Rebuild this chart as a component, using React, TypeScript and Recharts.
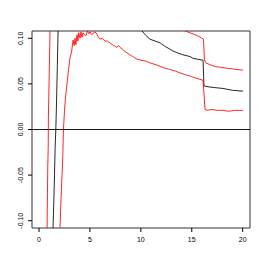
import React from "react";
import { LineChart, Line, XAxis, YAxis, ReferenceLine, ReferenceArea } from "recharts";

const xTicks = [0, 5, 10, 15, 20];
const yTicks = [-0.1, -0.05, 0, 0.05, 0.1];
const yTickLabels = ["-0.10", "-0.05", "0.00", "0.05", "0.10"];

const lowerRedX = [1.8, 2.06, 2.15, 2.26, 2.33, 2.4, 2.5, 2.6, 2.75, 2.9, 3.05, 3.2, 3.34, 3.45, 3.54, 3.62, 3.73, 3.82, 3.9, 4.03, 4.12, 4.22, 4.32, 4.45, 4.62, 4.75, 4.9, 5.0, 5.15, 5.3, 5.45, 5.6, 5.8, 5.99, 6.2, 6.48, 6.7, 6.97, 7.2, 7.37, 7.5, 7.66, 7.8, 7.96, 8.2, 8.4, 8.64, 8.9, 9.2, 9.63, 10.0, 10.5, 10.9, 11.5, 12.18, 12.8, 13.4, 13.85, 14.4, 15.0, 15.5, 16.1, 16.2, 16.3, 16.5, 17.0, 17.5, 18.07, 18.6, 19.2, 20.04];
const lowerRedY = [-0.2, -0.108, -0.08, -0.05, -0.03, 0.0, 0.02, 0.035, 0.05, 0.066, 0.079, 0.085, 0.098, 0.092, 0.1, 0.093, 0.104, 0.097, 0.106, 0.1, 0.107, 0.101, 0.106, 0.104, 0.103, 0.108, 0.105, 0.107, 0.104, 0.105, 0.107, 0.106, 0.102, 0.099, 0.1, 0.097, 0.097, 0.095, 0.093, 0.092, 0.091, 0.09, 0.092, 0.09, 0.088, 0.086, 0.084, 0.082, 0.08, 0.077, 0.076, 0.075, 0.073, 0.071, 0.068, 0.066, 0.064, 0.062, 0.06, 0.058, 0.056, 0.054, 0.04, 0.022, 0.021, 0.022, 0.021, 0.021, 0.02, 0.021, 0.021];

const blackX = [1.3, 1.38, 1.45, 1.52, 1.58, 1.65, 1.72, 1.8, 1.87, 1.95, 3, 5, 7, 8.5, 9.5, 10.12, 10.5, 10.9, 11.4, 11.89, 12.4, 12.87, 13.16, 13.6, 14.1, 14.83, 15.13, 15.6, 16.11, 16.2, 16.5, 17.2, 18.07, 19, 20.04];
const blackY = [-0.2, -0.108, -0.08, -0.05, -0.02, 0.0, 0.03, 0.07, 0.108, 0.2, 0.3, 0.25, 0.18, 0.14, 0.12, 0.108, 0.103, 0.099, 0.097, 0.095, 0.091, 0.088, 0.086, 0.084, 0.082, 0.08, 0.078, 0.077, 0.076, 0.048, 0.047, 0.046, 0.045, 0.043, 0.042];

const upperRedX = [0.7, 0.79, 0.83, 0.86, 0.9, 0.92, 0.95, 1.0, 1.08, 1.15, 2, 5, 9, 12, 13.5, 14.34, 14.83, 15.32, 15.7, 16.01, 16.15, 16.25, 16.4, 16.8, 17.3, 18, 18.6, 19.3, 20.04];
const upperRedY = [-0.2, -0.108, -0.07, -0.04, -0.02, 0.015, 0.03, 0.06, 0.108, 0.2, 0.3, 0.28, 0.2, 0.14, 0.118, 0.108, 0.106, 0.104, 0.102, 0.1, 0.099, 0.076, 0.073, 0.071, 0.069, 0.068, 0.067, 0.066, 0.065];

const zip = (xs: number[], ys: number[]) => xs.map((x, i) => ({ x, y: ys[i] }));
const lowerRed = zip(lowerRedX, lowerRedY);
const black = zip(blackX, blackY);
const upperRed = zip(upperRedX, upperRedY);

const X_DOMAIN: [number, number] = [-0.69, 20.72];
const Y_DOMAIN: [number, number] = [-0.108, 0.108];
const FONT = "'Liberation Sans', Arial, sans-serif";

const XTick = (props: any) => {
  const { x, y, payload } = props;
  return (
    <text x={x} y={y} dy={8} textAnchor="middle" fontSize={7} fontFamily={FONT} fill="#000">
      {payload.value}
    </text>
  );
};

const YTick = (props: any) => {
  const { x, y, payload } = props;
  const idx = yTicks.findIndex((t) => Math.abs(t - payload.value) < 1e-9);
  const label = idx >= 0 ? yTickLabels[idx] : String(payload.value);
  const bx = x - 2;
  return (
    <text x={bx} y={y} transform={`rotate(-90, ${bx}, ${y})`} textAnchor="middle" fontSize={7} fontFamily={FONT} fill="#000">
      {label}
    </text>
  );
};

export default function App() {
  return (
    <div style={{ position: "absolute", left: 0, top: 0, background: "#fff" }}>
      <LineChart width={267} height={267} margin={{ top: 31, right: 17, bottom: 0, left: 0 }}>
        <XAxis
          type="number"
          dataKey="x"
          domain={X_DOMAIN}
          allowDataOverflow
          ticks={xTicks}
          axisLine={false}
          tickLine={{ stroke: "#000" }}
          tickSize={4}
          tickMargin={2}
          height={39}
          tick={<XTick />}
          interval={0}
        />
        <YAxis
          type="number"
          dataKey="y"
          domain={Y_DOMAIN}
          allowDataOverflow
          ticks={yTicks}
          axisLine={false}
          tickLine={{ stroke: "#000" }}
          tickSize={4}
          tickMargin={3}
          width={32}
          tick={<YTick />}
          interval={0}
        />
        <ReferenceLine y={0} stroke="#000" strokeWidth={0.9} />
        <Line data={upperRed} dataKey="y" type="linear" stroke="#ff0000" strokeWidth={0.85} dot={false} isAnimationActive={false} />
        <Line data={black} dataKey="y" type="linear" stroke="#000000" strokeWidth={0.85} dot={false} isAnimationActive={false} />
        <Line data={lowerRed} dataKey="y" type="linear" stroke="#ff0000" strokeWidth={0.85} dot={false} isAnimationActive={false} />
        <ReferenceArea x1={X_DOMAIN[0]} x2={X_DOMAIN[1]} y1={Y_DOMAIN[0]} y2={Y_DOMAIN[1]} fill="none" stroke="#333" strokeWidth={1} />
      </LineChart>
    </div>
  );
}
